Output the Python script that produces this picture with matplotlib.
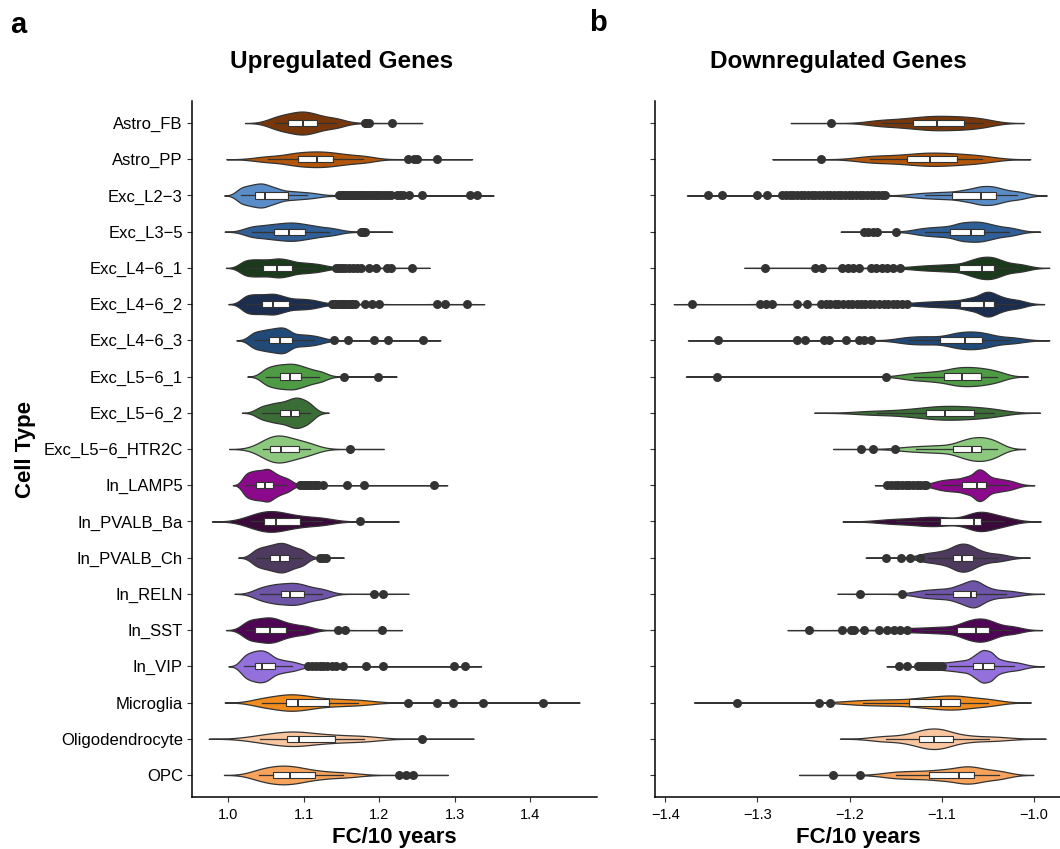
import numpy as np
import matplotlib
matplotlib.use("Agg")
import matplotlib.pyplot as plt

plt.rcParams['font.family'] = ['Liberation Sans', 'DejaVu Sans']

cell_types = ["Astro_FB", "Astro_PP", "Exc_L2−3", "Exc_L3−5", "Exc_L4−6_1", "Exc_L4−6_2",
              "Exc_L4−6_3", "Exc_L5−6_1", "Exc_L5−6_2", "Exc_L5−6_HTR2C", "In_LAMP5",
              "In_PVALB_Ba", "In_PVALB_Ch", "In_RELN", "In_SST", "In_VIP", "Microglia",
              "Oligodendrocyte", "OPC"]
colors = ["#78370A", "#B3560A", "#5A8DC8", "#2F5F96", "#1B3A1C", "#1C2E4F", "#214A78",
          "#4E9A45", "#3B6E36", "#8CC97F", "#8B0A8B", "#3A0A3A", "#4F3A5F", "#6E55A8",
          "#4E0553", "#9370DB", "#F28C1E", "#F9C6A0", "#F7A35C"]

# ---- upregulated genes (FC/10 years) ----
up_q1 = [1.079, 1.0925, 1.035, 1.060, 1.046, 1.044, 1.054, 1.068, 1.069, 1.055,
         1.036, 1.047, 1.055, 1.070, 1.035, 1.035, 1.076, 1.078, 1.059]
up_med = [1.099, 1.117, 1.048, 1.081, 1.064, 1.059, 1.068, 1.082, 1.083, 1.070,
          1.048, 1.063, 1.068, 1.082, 1.055, 1.045, 1.0925, 1.093, 1.0815]
up_q3 = [1.117, 1.139, 1.079, 1.101, 1.084, 1.081, 1.084, 1.096, 1.093, 1.093,
         1.059, 1.095, 1.081, 1.100, 1.077, 1.062, 1.1335, 1.141, 1.1146]
up_core = [
    [1.062, 1.077, 1.090, 1.099, 1.108, 1.122, 1.143],
    [1.053, 1.084, 1.101, 1.117, 1.131, 1.150, 1.178],
    [1.017, 1.029, 1.039, 1.048, 1.060, 1.077, 1.104],
    [1.031, 1.051, 1.067, 1.081, 1.093, 1.110, 1.134],
    [1.022, 1.036, 1.050, 1.064, 1.077, 1.094, 1.117],
    [1.023, 1.035, 1.047, 1.059, 1.071, 1.089, 1.111],
    [1.034, 1.047, 1.058, 1.068, 1.077, 1.093, 1.114],
    [1.050, 1.062, 1.072, 1.082, 1.091, 1.103, 1.120],
    [1.045, 1.060, 1.072, 1.083, 1.090, 1.098, 1.108],
    [1.046, 1.057, 1.064, 1.070, 1.080, 1.093, 1.108],
    [1.023, 1.032, 1.040, 1.048, 1.055, 1.064, 1.077],
    [1.030, 1.045, 1.055, 1.063, 1.077, 1.097, 1.124],
    [1.037, 1.049, 1.059, 1.068, 1.075, 1.085, 1.098],
    [1.042, 1.058, 1.069, 1.082, 1.091, 1.104, 1.124],
    [1.024, 1.035, 1.046, 1.055, 1.065, 1.079, 1.100],
    [1.021, 1.030, 1.038, 1.045, 1.053, 1.065, 1.084],
    [1.044, 1.066, 1.080, 1.0925, 1.110, 1.137, 1.172],
    [1.042, 1.068, 1.083, 1.093, 1.115, 1.143, 1.180],
    [1.040, 1.057, 1.069, 1.0815, 1.095, 1.117, 1.152],
]
up_out = [
    [1.181, 1.183, 1.186, 1.217],
    [1.238, 1.246, 1.250, 1.276],
    [1.146, 1.148, 1.151, 1.153, 1.156, 1.159, 1.161, 1.164, 1.167, 1.169, 1.172, 1.175,
     1.177, 1.180, 1.183, 1.186, 1.188, 1.191, 1.194, 1.197, 1.200, 1.203, 1.207, 1.211,
     1.216, 1.223, 1.228, 1.232, 1.240, 1.257, 1.320, 1.329],
    [1.176, 1.178, 1.181],
    [1.142, 1.146, 1.150, 1.155, 1.160, 1.165, 1.170, 1.176, 1.187, 1.196, 1.210, 1.216, 1.243],
    [1.137, 1.140, 1.143, 1.146, 1.149, 1.152, 1.155, 1.158, 1.161, 1.164, 1.168, 1.181,
     1.190, 1.200, 1.276, 1.287, 1.316],
    [1.140, 1.159, 1.193, 1.212, 1.258],
    [1.153, 1.198],
    [],
    [1.161],
    [1.095, 1.098, 1.101, 1.104, 1.107, 1.110, 1.113, 1.116, 1.119, 1.126, 1.157, 1.180, 1.273],
    [1.174],
    [1.121, 1.126, 1.129],
    [1.193, 1.205],
    [1.145, 1.155, 1.203],
    [1.106, 1.111, 1.116, 1.121, 1.126, 1.131, 1.137, 1.143, 1.152, 1.182, 1.205, 1.299, 1.314],
    [1.238, 1.276, 1.298, 1.337, 1.4166],
    [1.257],
    [1.226, 1.235, 1.245],
]
up_bw = [0.0133, 0.0157, 0.0075, 0.012, 0.008, 0.0077, 0.0077, 0.0083, 0.0083, 0.015,
         0.0057, 0.0173, 0.008, 0.0113, 0.009, 0.007, 0.0163, 0.0227, 0.0153]

# ---- downregulated genes (FC/10 years) ----
down_q1 = [-1.1312, -1.138, -1.0884, -1.091, -1.081, -1.080, -1.102, -1.0975, -1.1174, -1.0873,
           -1.0775, -1.1018, -1.088, -1.0873, -1.083, -1.0655, -1.1355, -1.1247, -1.1138]
down_med = [-1.1047, -1.1127, -1.0576, -1.0685, -1.0558, -1.054, -1.074, -1.0775, -1.0957, -1.0667,
            -1.061, -1.0649, -1.0775, -1.0685, -1.063, -1.0547, -1.101, -1.1084, -1.0812]
down_q3 = [-1.0758, -1.083, -1.0413, -1.054, -1.043, -1.043, -1.0558, -1.0569, -1.0649, -1.0569,
           -1.052, -1.0569, -1.066, -1.0623, -1.0486, -1.0431, -1.0804, -1.0873, -1.065]
down_core = [
    [-1.165, -1.138, -1.118, -1.105, -1.089, -1.074, -1.055],
    [-1.178, -1.150, -1.126, -1.113, -1.096, -1.079, -1.056],
    [-1.118, -1.090, -1.071, -1.058, -1.047, -1.036, -1.018],
    [-1.118, -1.096, -1.080, -1.0685, -1.058, -1.046, -1.027],
    [-1.115, -1.085, -1.067, -1.056, -1.046, -1.036, -1.017],
    [-1.114, -1.084, -1.066, -1.054, -1.046, -1.036, -1.019],
    [-1.135, -1.110, -1.087, -1.074, -1.063, -1.050, -1.026],
    [-1.130, -1.106, -1.088, -1.0775, -1.066, -1.055, -1.040],
    [-1.170, -1.132, -1.110, -1.0957, -1.080, -1.064, -1.043],
    [-1.128, -1.098, -1.078, -1.0667, -1.059, -1.050, -1.040],
    [-1.100, -1.083, -1.070, -1.061, -1.054, -1.044, -1.028],
    [-1.150, -1.118, -1.097, -1.065, -1.059, -1.051, -1.032],
    [-1.115, -1.097, -1.085, -1.0775, -1.070, -1.060, -1.040],
    [-1.118, -1.096, -1.080, -1.0685, -1.063, -1.053, -1.030],
    [-1.125, -1.092, -1.074, -1.063, -1.054, -1.044, -1.025],
    [-1.092, -1.073, -1.062, -1.0547, -1.047, -1.039, -1.021],
    [-1.185, -1.150, -1.121, -1.101, -1.088, -1.074, -1.050],
    [-1.160, -1.132, -1.118, -1.108, -1.097, -1.082, -1.048],
    [-1.150, -1.123, -1.100, -1.081, -1.071, -1.059, -1.038],
]
down_out = [
    [-1.2196],
    [-1.2315],
    [-1.354, -1.339, -1.300, -1.290, -1.273, -1.269, -1.265, -1.261, -1.257, -1.253, -1.249,
     -1.245, -1.241, -1.237, -1.233, -1.229, -1.225, -1.221, -1.217, -1.213, -1.209, -1.205,
     -1.201, -1.197, -1.193, -1.189, -1.185, -1.181, -1.177, -1.173, -1.169, -1.165, -1.161],
    [-1.1845, -1.180, -1.175, -1.170, -1.149],
    [-1.292, -1.237, -1.230, -1.208, -1.202, -1.196, -1.190, -1.177, -1.171, -1.165, -1.159,
     -1.153, -1.145],
    [-1.371, -1.297, -1.291, -1.284, -1.257, -1.246, -1.231, -1.226, -1.221, -1.216, -1.212,
     -1.207, -1.202, -1.197, -1.192, -1.187, -1.183, -1.178, -1.173, -1.168, -1.163, -1.158,
     -1.153, -1.148, -1.143, -1.138],
    [-1.343, -1.257, -1.248, -1.228, -1.2225, -1.204, -1.190, -1.184, -1.177],
    [-1.344, -1.160],
    [],
    [-1.187, -1.1747, -1.151],
    [-1.159, -1.155, -1.151, -1.147, -1.143, -1.139, -1.135, -1.131, -1.127, -1.123, -1.119, -1.117],
    [],
    [-1.160, -1.1438, -1.1345, -1.1236],
    [-1.189, -1.1427],
    [-1.2435, -1.208, -1.198, -1.195, -1.1845, -1.168, -1.159, -1.152, -1.145, -1.137],
    [-1.1464, -1.1373, -1.126, -1.123, -1.120, -1.117, -1.114, -1.111, -1.108, -1.105, -1.102, -1.0995],
    [-1.322, -1.2334, -1.2207],
    [],
    [-1.218, -1.189],
]
down_bw = [0.0148, 0.0175, 0.0076, 0.0084, 0.0075, 0.0067, 0.0109, 0.0113, 0.0167, 0.0103,
           0.0045, 0.0133, 0.0075, 0.0081, 0.008, 0.0045, 0.0157, 0.011, 0.0123]

up_ticks = [1.0, 1.1, 1.2, 1.3, 1.4]
down_ticks = [-1.4, -1.3, -1.2, -1.1, -1.0]

LINE = "#333333"
OUT_W = 0.003  # weight of a single outlier gene in the density


def violin_density(core, outs, bw):
    """gaussian kde, kernel width follows the spacing of the core values"""
    core = np.sort(np.asarray(core, float))
    outs = np.asarray(outs, float)
    gaps = np.diff(core)
    spacing = np.concatenate([[gaps[0]], (gaps[:-1] + gaps[1:]) / 2, [gaps[-1]]])
    sig_core = np.maximum(bw, 0.6 * spacing)
    centers = np.concatenate([core, outs])
    sigmas = np.concatenate([sig_core, np.full(len(outs), bw)])
    weights = np.concatenate([np.full(len(core), (1 - len(outs) * OUT_W) / len(core)),
                              np.full(len(outs), OUT_W)])
    grid = np.linspace(np.min(centers - 3 * sigmas), np.max(centers + 3 * sigmas), 800)
    z = (grid[:, None] - centers[None, :]) / sigmas[None, :]
    dens = (weights / (sigmas * np.sqrt(2 * np.pi)) * np.exp(-0.5 * z ** 2)).sum(axis=1)
    return grid, dens


def draw_panel(ax, q1, med, q3, core, outs, bw):
    shapes = [violin_density(c, o, b) for c, o, b in zip(core, outs, bw)]
    dmax = max(d.max() for _, d in shapes)  # same area for every violin
    for i, (grid, dens) in enumerate(shapes):
        hw = 0.45 * dens / dmax
        ax.fill_between(grid, i - hw, i + hw, facecolor=colors[i], edgecolor=LINE,
                        linewidth=0.9, zorder=2)

        iqr = q3[i] - q1[i]
        inside = [v for v in core[i] + outs[i] if q1[i] - 1.5 * iqr <= v <= q3[i] + 1.5 * iqr]
        stats = dict(q1=q1[i], med=med[i], q3=q3[i], whislo=min(inside), whishi=max(inside), fliers=[])
        ax.bxp([stats], positions=[i], widths=0.17, orientation='horizontal', patch_artist=True,
               showcaps=False, showfliers=False, manage_ticks=False, zorder=3,
               boxprops=dict(facecolor='white', edgecolor=LINE, linewidth=0.8),
               whiskerprops=dict(color=LINE, linewidth=0.9),
               medianprops=dict(color=LINE, linewidth=1.4))
        if outs[i]:
            ax.scatter(outs[i], np.full(len(outs[i]), i), s=42, color=LINE, linewidths=0, zorder=4)

    ax.set_ylim(len(cell_types) - 0.4, -0.6)
    ax.set_yticks(range(len(cell_types)))
    for side in ['top', 'right']:
        ax.spines[side].set_visible(False)
    for side in ['left', 'bottom']:
        ax.spines[side].set_linewidth(1.1)
        ax.spines[side].set_color('black')
    ax.tick_params(axis='both', length=3.6, width=0.8, color=LINE, labelcolor='black')
    ax.tick_params(axis='x', labelsize=10.5, pad=4.5)
    ax.tick_params(axis='y', labelsize=12, pad=3)


fig = plt.figure(figsize=(10.6, 8.49), dpi=100)
W, H = 1060, 849
ax1 = fig.add_axes([192 / W, 1 - 796.7 / H, (597 - 192) / W, 695.4 / H])
ax2 = fig.add_axes([655 / W, 1 - 796.7 / H, (1061.5 - 655) / W, 695.4 / H])

draw_panel(ax1, up_q1, up_med, up_q3, up_core, up_out, up_bw)
draw_panel(ax2, down_q1, down_med, down_q3, down_core, down_out, down_bw)

ax1.set_yticklabels(cell_types)
ax2.set_yticklabels([])
ax1.set_xlim(0.9518, 1.4885)
ax2.set_xlim(-1.4114, -0.9696)
ax1.set_xticks(up_ticks)
ax1.set_xticklabels([f"{t:.1f}" for t in up_ticks])
ax2.set_xticks(down_ticks)
ax2.set_xticklabels([f"{t:.1f}".replace("-", "\u2212") for t in down_ticks])

# titles and labels
fig.text(342 / W, 1 - 68 / H, "Upregulated Genes", ha='center', va='baseline',
         fontsize=17.5, fontweight='bold')
fig.text(838 / W, 1 - 68 / H, "Downregulated Genes", ha='center', va='baseline',
         fontsize=17.5, fontweight='bold')
fig.text(394.5 / W, 1 - 843 / H, "FC/10 years", ha='center', va='baseline',
         fontsize=16, fontweight='bold')
fig.text(858 / W, 1 - 843 / H, "FC/10 years", ha='center', va='baseline',
         fontsize=16, fontweight='bold')
fig.text(25 / W, 1 - 449 / H, "Cell Type", ha='center', va='center', rotation=90,
         fontsize=16, fontweight='bold')
fig.text(18 / W, 1 - 25 / H, "a", ha='center', va='center', fontsize=21, fontweight='bold')
fig.text(598 / W, 1 - 23 / H, "b", ha='center', va='center', fontsize=21, fontweight='bold')

fig.savefig("out.png", dpi=100)
